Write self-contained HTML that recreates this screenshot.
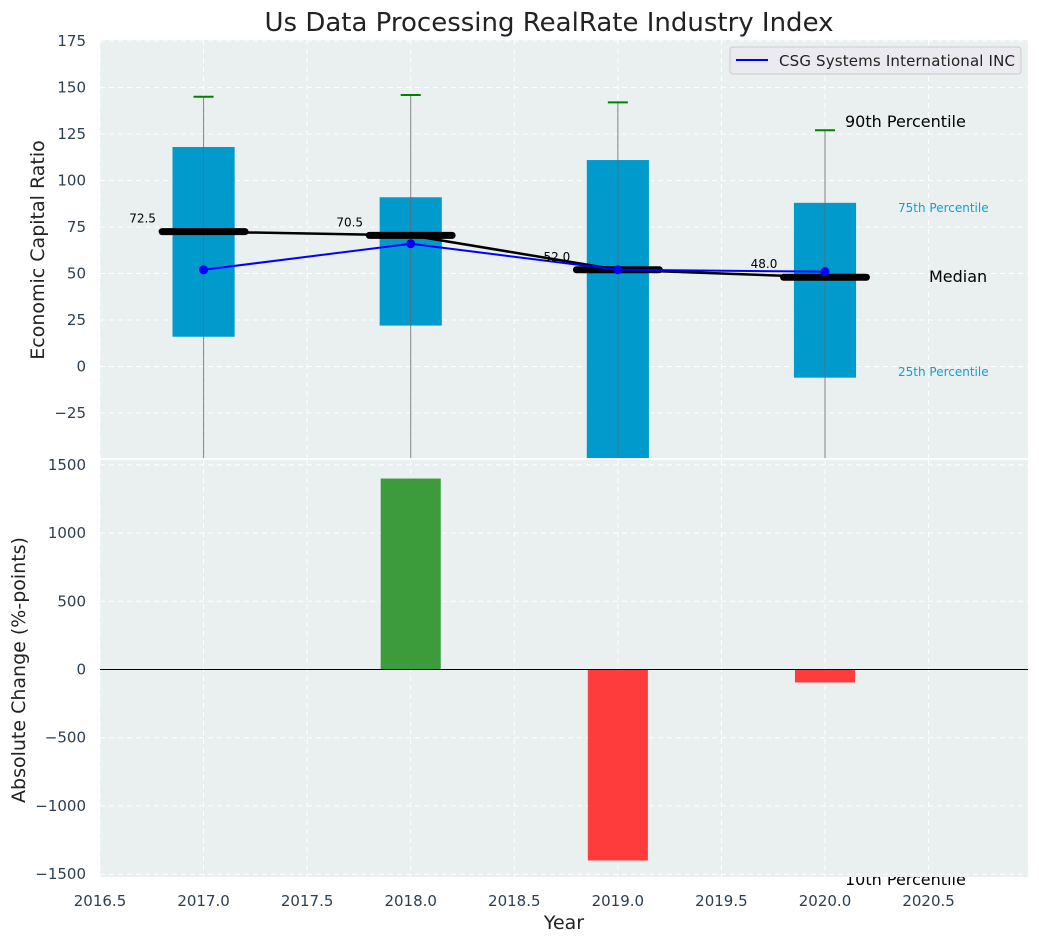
<!DOCTYPE html>
<html><head><meta charset="utf-8"><style>
body{margin:0;background:#fff;font-family:"Liberation Sans","DejaVu Sans",sans-serif}
svg text{font-family:"DejaVu Sans","Liberation Sans",sans-serif}
</style></head><body>
<svg id="c" width="1039" height="942" xmlns="http://www.w3.org/2000/svg"></svg>
<script>
const years=[2017,2018,2019,2020];
const q75=[118,91,111,88];
const q25=[16,22,-55,-6];
const p90=[145,146,142,127];
const p10=[-60,-60,-60,-60];
const medians=[72.5,70.5,52.0,48.0];
const companyVals=[52,66,52,51];
const changes=[0,1400,-1400,-95];
const topTicks=[-25,0,25,50,75,100,125,150,175];
const botTicks=[-1500,-1000,-500,0,500,1000,1500];
const xTicks=[2016.5,2017,2017.5,2018,2018.5,2019,2019.5,2020,2020.5];

const NS="http://www.w3.org/2000/svg";
const svg=document.getElementById('c');
function el(t,a,p){const e=document.createElementNS(NS,t);for(const k in a)e.setAttribute(k,a[k]);(p||svg).appendChild(e);return e;}
function txt(s,xx,yy,size,fill,name){const t=el('text',{x:xx,y:yy,'font-size':size,fill:fill});t.textContent=s;return t;}
const L=100,R=1028;
const x=v=>L+(v-2016.5)/(2020.98-2016.5)*(R-L);
const T0=40,T1=458,yT=v=>366.5-(v)*1.86;
const B0=460,B1=877,yB=v=>669.5-v*(68.2/500);

// text partially hidden under bottom axes
txt('10th Percentile',845,885,16,'#000','p10-annotation');

let bg=el('rect',{x:L,y:T0,width:R-L,height:T1-T0,fill:'#eaeff0'});

let bg2=el('rect',{x:L,y:B0,width:R-L,height:B1-B0,fill:'#eaeff0'});


const defs=el('defs',{});
const cp=el('clipPath',{id:'ct'},defs);el('rect',{x:L,y:T0,width:R-L,height:T1-T0},cp);
// grids
xTicks.forEach(t=>{
 [[T0,T1],[B0,B1]].forEach(([a,b])=>{const g=el('line',{x1:x(t),x2:x(t),y1:a,y2:b,stroke:'#fff','stroke-dasharray':'5,4','stroke-width':1});
 });
 const tl=el('text',{x:x(t),y:906,'text-anchor':'middle','font-size':15,fill:'#2c3e50'});tl.textContent=t.toFixed(1);
 
});
topTicks.forEach(t=>{
 const g=el('line',{x1:L,x2:R,y1:yT(t),y2:yT(t),stroke:'#fff','stroke-dasharray':'5,4'});
 
 const tl=el('text',{x:86,y:yT(t)+5,'text-anchor':'end','font-size':15,fill:'#2c3e50'});tl.textContent=t<0?'\u2212'+(-t):t;
 
});
botTicks.forEach(t=>{
 const g=el('line',{x1:L,x2:R,y1:yB(t),y2:yB(t),stroke:'#fff','stroke-dasharray':'5,4'});
 
 const tl=el('text',{x:86,y:yB(t)+5,'text-anchor':'end','font-size':15,fill:'#2c3e50'});tl.textContent=t<0?'\u2212'+(-t):t;
 
});
const g1=el('g',{'clip-path':'url(#ct)'});

// boxes
const hw=x(2017.15)-x(2017);
years.forEach((yr,i)=>{
 const cx=x(yr);
 const b=el('rect',{x:cx-hw,y:yT(q75[i]),width:2*hw,height:yT(q25[i])-yT(q75[i]),fill:'#009bcc'},g1);
 
 const w=el('line',{x1:cx,x2:cx,y1:yT(p90[i]),y2:yT(p10[i]),stroke:'#666','stroke-opacity':0.8,'stroke-width':1},g1);
 
 const c=el('line',{x1:cx-10,x2:cx+10,y1:yT(p90[i]),y2:yT(p90[i]),stroke:'green','stroke-width':2},g1);
 
});
const mw=x(2017.2)-x(2017);
const ml=el('polyline',{points:years.map((y,i)=>x(y)+','+yT(medians[i])).join(' '),fill:'none',stroke:'#000','stroke-width':2.5},g1);

years.forEach((yr,i)=>{
 const m=el('line',{x1:x(yr)-mw,x2:x(yr)+mw,y1:yT(medians[i]),y2:yT(medians[i]),stroke:'#000','stroke-width':7,'stroke-linecap':'round'},g1);
 
 const t=el('text',{x:x(yr)-61,y:yT(medians[i])-9,'text-anchor':'middle','font-size':12,fill:'#000'});t.textContent=medians[i].toFixed(1);
 
});
const cl=el('polyline',{points:years.map((y,i)=>x(y)+','+yT(companyVals[i])).join(' '),fill:'none',stroke:'blue','stroke-width':2},g1);

years.forEach((yr,i)=>{const p=el('circle',{cx:x(yr),cy:yT(companyVals[i]),r:4.5,fill:'blue'},g1);
 });

txt('90th Percentile',845,127,16,'#000','p90-annotation');
txt('75th Percentile',898,212,12,'#1a9ccc','p75-annotation');
txt('Median',929,282,16,'#000','median-annotation');
txt('25th Percentile',898,376,12,'#1a9ccc','p25-annotation');

const lg=el('g',{});
el('rect',{x:730,y:47,width:291,height:27,rx:3,fill:'#eaeaf0',stroke:'#ccc'},lg);
el('line',{x1:736,x2:768,y1:60,y2:60,stroke:'blue','stroke-width':2},lg);
const lt=el('text',{x:779,y:66,'font-size':15,fill:'#222',textLength:236},lg);lt.textContent='CSG Systems International INC';

const bw=x(2017.145)-x(2017);
years.forEach((yr,i)=>{if(!changes[i])return;
 const v=changes[i];
 const b=el('rect',{x:x(yr)-bw,y:Math.min(yB(v),yB(0)),width:2*bw,height:Math.abs(yB(v)-yB(0)),fill:v>0?'#3c9c3c':'#ff3c3c'});
 
});
const z=el('line',{x1:L,x2:R,y1:yB(0),y2:yB(0),stroke:'#000','stroke-width':1});


const ti=el('text',{x:549,y:31,'text-anchor':'middle','font-size':26,fill:'#222'});ti.textContent='Us Data Processing RealRate Industry Index';

const xl=el('text',{x:564,y:929,'text-anchor':'middle','font-size':19,fill:'#222'});xl.textContent='Year';

const y1=el('text',{x:0,y:0,'text-anchor':'middle','font-size':19,fill:'#222',transform:'translate(44,250) rotate(-90)'});y1.textContent='Economic Capital Ratio';

const y2=el('text',{x:0,y:0,'text-anchor':'middle','font-size':19,fill:'#222',transform:'translate(25,670) rotate(-90)'});y2.textContent='Absolute Change (%-points)';

</script>
</body></html>
